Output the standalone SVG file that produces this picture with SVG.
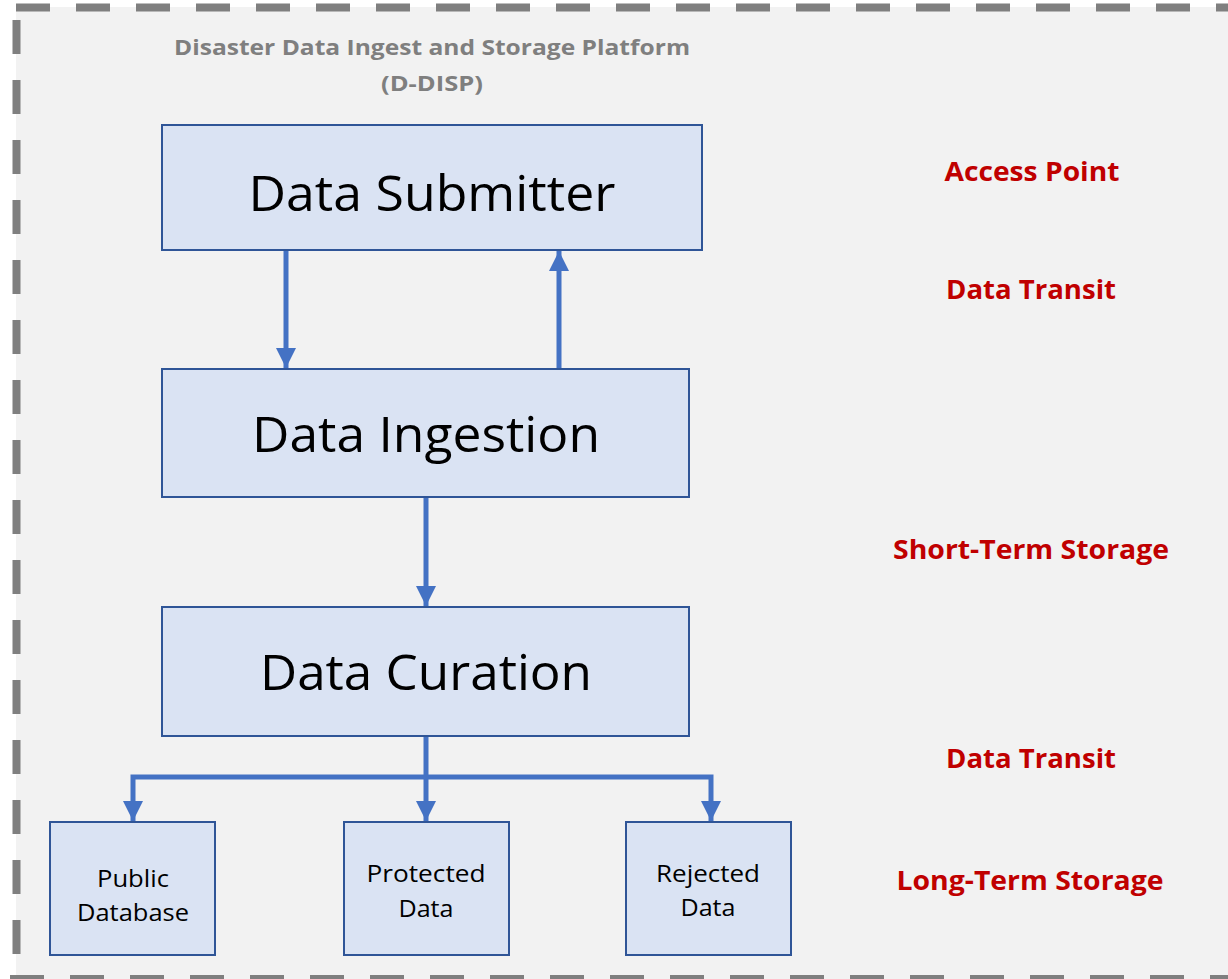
<svg xmlns="http://www.w3.org/2000/svg" width="1228" height="979" viewBox="0 0 1228 979">
  <style>
    .box { fill: #dae3f3; stroke: #2f5597; stroke-width: 2; }
    .big { font-family: "Open Sans", "Liberation Sans", sans-serif; font-size: 50px; fill: #000; text-anchor: middle; }
    .small { font-family: "Open Sans", "Liberation Sans", sans-serif; font-size: 23px; fill: #000; text-anchor: middle; }
    .red { font-family: "Open Sans", "Liberation Sans", sans-serif; font-size: 27px; font-weight: bold; fill: #c00000; text-anchor: middle; }
    .title { font-family: "Open Sans", "Liberation Sans", sans-serif; font-size: 21px; font-weight: bold; fill: #7f7f7f; text-anchor: middle; }
    .conn { fill: none; stroke: #4472c4; stroke-width: 5; stroke-linejoin: miter; }
    .border { stroke: #7f7f7f; stroke-width: 8; stroke-dasharray: 34 26; fill: none; }
  </style>
  <defs>
    <marker id="arr" markerUnits="userSpaceOnUse" markerWidth="20" markerHeight="20" viewBox="0 0 20 20" refX="20" refY="10" orient="auto-start-reverse">
      <path d="M0,0 L20,10 L0,20 z" fill="#4472c4"/>
    </marker>
  </defs>
  <rect x="0" y="0" width="1228" height="979" fill="#ffffff"/>
  <g id="frame">
    <rect x="16" y="7" width="1220" height="975" fill="#f2f2f2"/>
    <line class="border" x1="16" y1="7.5" x2="1240" y2="7.5"/>
    <line class="border" x1="16.5" y1="20" x2="16.5" y2="975"/>
    <line class="border" x1="10" y1="979" x2="1240" y2="979"/>
    <text class="title" x="432" y="55" textLength="516" lengthAdjust="spacingAndGlyphs">Disaster Data Ingest and Storage Platform</text>
    <text class="title" x="432" y="91" textLength="102" lengthAdjust="spacingAndGlyphs">(D-DISP)</text>
  </g>
  <g id="connectors">
    <path class="conn" d="M286,250 V368" marker-end="url(#arr)"/>
    <path class="conn" d="M559,368 V251" marker-end="url(#arr)"/>
    <path class="conn" d="M426,497 V606" marker-end="url(#arr)"/>
    <path class="conn" d="M426,736 V821" marker-end="url(#arr)"/>
    <path class="conn" d="M133,821 V777 H711 V821" marker-start="url(#arr)" marker-end="url(#arr)"/>
  </g>
  <g id="data-submitter">
    <rect class="box" x="162" y="125" width="540" height="125"/>
    <text class="big" x="432" y="211" textLength="367" lengthAdjust="spacingAndGlyphs">Data Submitter</text>
  </g>
  <g id="data-ingestion">
    <rect class="box" x="162" y="369" width="527" height="128"/>
    <text class="big" x="426" y="452" textLength="348" lengthAdjust="spacingAndGlyphs">Data Ingestion</text>
  </g>
  <g id="data-curation">
    <rect class="box" x="162" y="607" width="527" height="129"/>
    <text class="big" x="426" y="690" textLength="332" lengthAdjust="spacingAndGlyphs">Data Curation</text>
  </g>
  <g id="public-database">
    <rect class="box" x="50" y="822" width="165" height="133"/>
    <text class="small" x="133" y="887" textLength="72" lengthAdjust="spacingAndGlyphs">Public</text>
    <text class="small" x="133" y="921" textLength="112" lengthAdjust="spacingAndGlyphs">Database</text>
  </g>
  <g id="protected-data">
    <rect class="box" x="344" y="822" width="165" height="133"/>
    <text class="small" x="426" y="882" textLength="119" lengthAdjust="spacingAndGlyphs">Protected</text>
    <text class="small" x="426" y="917" textLength="55" lengthAdjust="spacingAndGlyphs">Data</text>
  </g>
  <g id="rejected-data">
    <rect class="box" x="626" y="822" width="165" height="133"/>
    <text class="small" x="708" y="882" textLength="104" lengthAdjust="spacingAndGlyphs">Rejected</text>
    <text class="small" x="708" y="916" textLength="55" lengthAdjust="spacingAndGlyphs">Data</text>
  </g>
  <g id="labels">
    <text class="red" x="1032" y="181" textLength="175" lengthAdjust="spacingAndGlyphs">Access Point</text>
    <text class="red" x="1031" y="299" textLength="170" lengthAdjust="spacingAndGlyphs">Data Transit</text>
    <text class="red" x="1031" y="559" textLength="276" lengthAdjust="spacingAndGlyphs">Short-Term Storage</text>
    <text class="red" x="1031" y="768" textLength="170" lengthAdjust="spacingAndGlyphs">Data Transit</text>
    <text class="red" x="1030" y="890" textLength="267" lengthAdjust="spacingAndGlyphs">Long-Term Storage</text>
  </g>
</svg>
